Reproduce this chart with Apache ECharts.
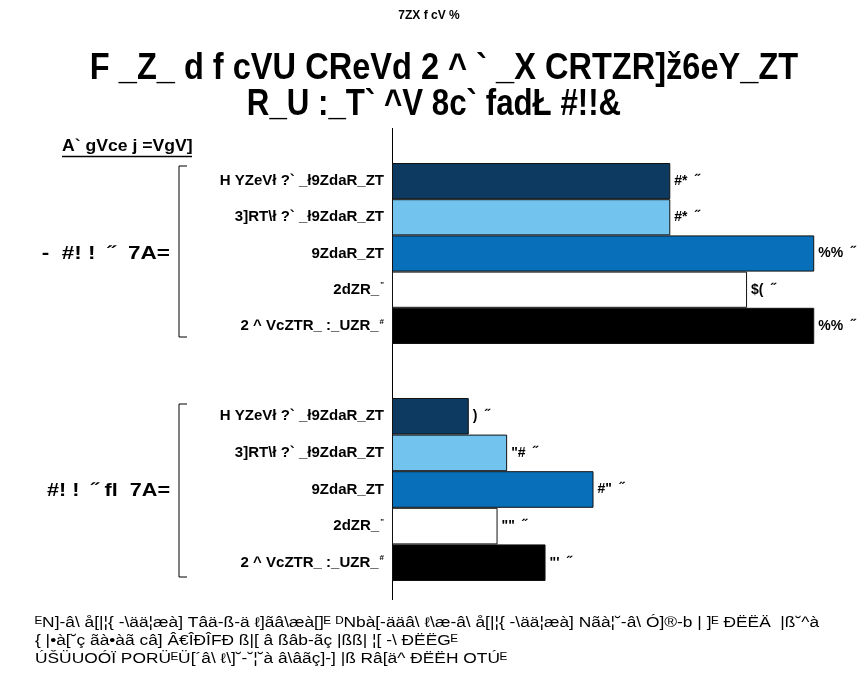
<!DOCTYPE html>
<html>
<head>
<meta charset="utf-8">
<script src="https://cdn.jsdelivr.net/npm/echarts@6/dist/echarts.min.js"></script>
<style>
  html, body { margin: 0; padding: 0; background: #ffffff; }
  #chart { width: 867px; height: 687px; }
</style>
</head>
<body>
<div id="chart"></div>
<script>
// Category names, footnote markers and values for the two income groups
const categories = ['H YZeVł ?` _ł9ZdaR_ZT', '3]RT\\ł ?` _ł9ZdaR_ZT', '9ZdaR_ZT', '2dZR_', '2 ^ VcZTR_ :_UZR_'];
const footnotes = ['', '', '', '"', '#'];
const belowValues = [29, 29, 44, 37, 44];
const aboveValues = [8, 12, 21, 11, 16];
const groupLabels = ['-  #! !  ˝  7A=', '#! !  ˝ fl  7A='];
const barColors = ['#0c3a60', '#72c3ee', '#086fbb', '#ffffff', '#000000'];

const figureLabel = '7ZX f cV %';
const titleLines = ['F _Z_ d f cVU CReVd 2 ^ ` _X CRTZR]ž6eY_ZT', 'R_U :_T` ^V 8c` fadŁ #!!&'];
const legendTitle = 'A` gVce j =VgV]';
const footerLines = [
  'ᴱN]-â\\ å[|¦{ -\\ää¦æà] Tâä-ß-ä ℓ]ãâ\\æà[]ᴱ ᴰNbà[-ääâ\\ ℓ\\æ-â\\ å[|¦{ -\\ää¦æà] Nãà¦˘-â\\ Ó]®-b | ]ᴱ ÐËËÄ  |ß˘^à',
  '{ |•à[˘ç ãà•àã câ] Â€ÎÐÎFÐ ß|[ â ßâb-ãç |ßß| ¦[ -\\ ÐËËGᴱ',
  'ÚŠÜUOÓÏ PORÜᴱÜ[´â\\ ℓ\\]˘-˘¦˘à â\\âãç]-] |ß Râ[ä^ ÐËËH OTÚᴱ'
];

// Digits are drawn with the document's shifted glyph encoding
function encodeValue(v) {
  return String(v).split('').map(c => String.fromCharCode(c.charCodeAt(0) - 15)).join('') + '  ˝';
}

const chart = echarts.init(document.getElementById('chart'), null, { renderer: 'canvas' });

const plainFont = 'Liberation Sans, Arial, sans-serif';

function yAxisFor(idx) {
  return {
    type: 'category',
    gridIndex: idx,
    data: categories,
    inverse: true,
    axisLine: { show: false },
    axisTick: { show: false },
    axisLabel: {
      margin: 8,
      formatter: (v, i) => footnotes[i] ? '{n|' + v + '}{s|' + footnotes[i] + '}' : '{n|' + v + '}',
      rich: {
        n: { fontFamily: plainFont, fontWeight: 'bold', fontSize: 15, color: '#000' },
        s: { fontFamily: plainFont, fontWeight: 'bold', fontSize: 8, color: '#000', verticalAlign: 'top', padding: [0, 0, 9, 1] }
      }
    }
  };
}

function xAxisFor(idx) {
  return { type: 'value', gridIndex: idx, min: 0, max: 49.5, show: false };
}

function barSeries(idx, values) {
  return {
    type: 'bar',
    xAxisIndex: idx,
    yAxisIndex: idx,
    barCategoryGap: 0,
    data: values.map((v, i) => ({ value: v, itemStyle: { color: barColors[i] } })),
    itemStyle: { borderColor: '#111', borderWidth: 1 },
    label: {
      show: true,
      position: 'right',
      distance: 4,
      formatter: p => encodeValue(p.value),
      fontFamily: plainFont,
      fontWeight: 'bold',
      fontSize: 14,
      color: '#000'
    },
    silent: true
  };
}

function scaledText(str, x, y, font, scaleX, align) {
  return {
    type: 'text', x: x, y: y, scaleX: scaleX,
    style: { text: str, font: font, fill: '#000', textAlign: align, textVerticalAlign: 'middle' }
  };
}

chart.setOption({
  backgroundColor: '#ffffff',
  animation: false,
  grid: [
    { left: 392, top: 163, width: 475, height: 181 },
    { left: 392, top: 398, width: 475, height: 183 }
  ],
  xAxis: [xAxisFor(0), xAxisFor(1)],
  yAxis: [yAxisFor(0), yAxisFor(1)],
  series: [barSeries(0, belowValues), barSeries(1, aboveValues)],
  graphic: [
    // figure number and two-line heading
    scaledText(figureLabel, 429, 16, 'bold 12px ' + plainFont, 1, 'center'),
    scaledText(titleLines[0], 444, 69, 'bold 37px ' + plainFont, 0.88, 'center'),
    scaledText(titleLines[1], 434, 105, 'bold 37px ' + plainFont, 0.845, 'center'),
    // vertical baseline
    { type: 'line', shape: { x1: 392.5, y1: 128, x2: 392.5, y2: 600 }, style: { stroke: '#000', lineWidth: 1 } },
    // poverty level heading with underline
    scaledText(legendTitle, 62, 147, 'bold 16px ' + plainFont, 1.1, 'left'),
    { type: 'line', shape: { x1: 62, y1: 156.5, x2: 192, y2: 156.5 }, style: { stroke: '#000', lineWidth: 1.5 } },
    // group brackets
    { type: 'polyline', shape: { points: [[187, 166], [179, 166], [179, 337], [187, 337]] }, style: { stroke: '#000', lineWidth: 1, fill: null } },
    { type: 'polyline', shape: { points: [[187, 404], [179, 404], [179, 577], [187, 577]] }, style: { stroke: '#000', lineWidth: 1, fill: null } },
    // group labels
    scaledText(groupLabels[0], 170, 254, 'bold 18px ' + plainFont, 1.25, 'right'),
    scaledText(groupLabels[1], 170, 491, 'bold 18px ' + plainFont, 1.2, 'right'),
    // source notes
    scaledText(footerLines[0], 35, 623, '14px ' + plainFont, 1.24, 'left'),
    scaledText(footerLines[1], 35, 641, '14px ' + plainFont, 1.24, 'left'),
    scaledText(footerLines[2], 35, 659, '14px ' + plainFont, 1.24, 'left')
  ]
});
</script>
</body>
</html>
